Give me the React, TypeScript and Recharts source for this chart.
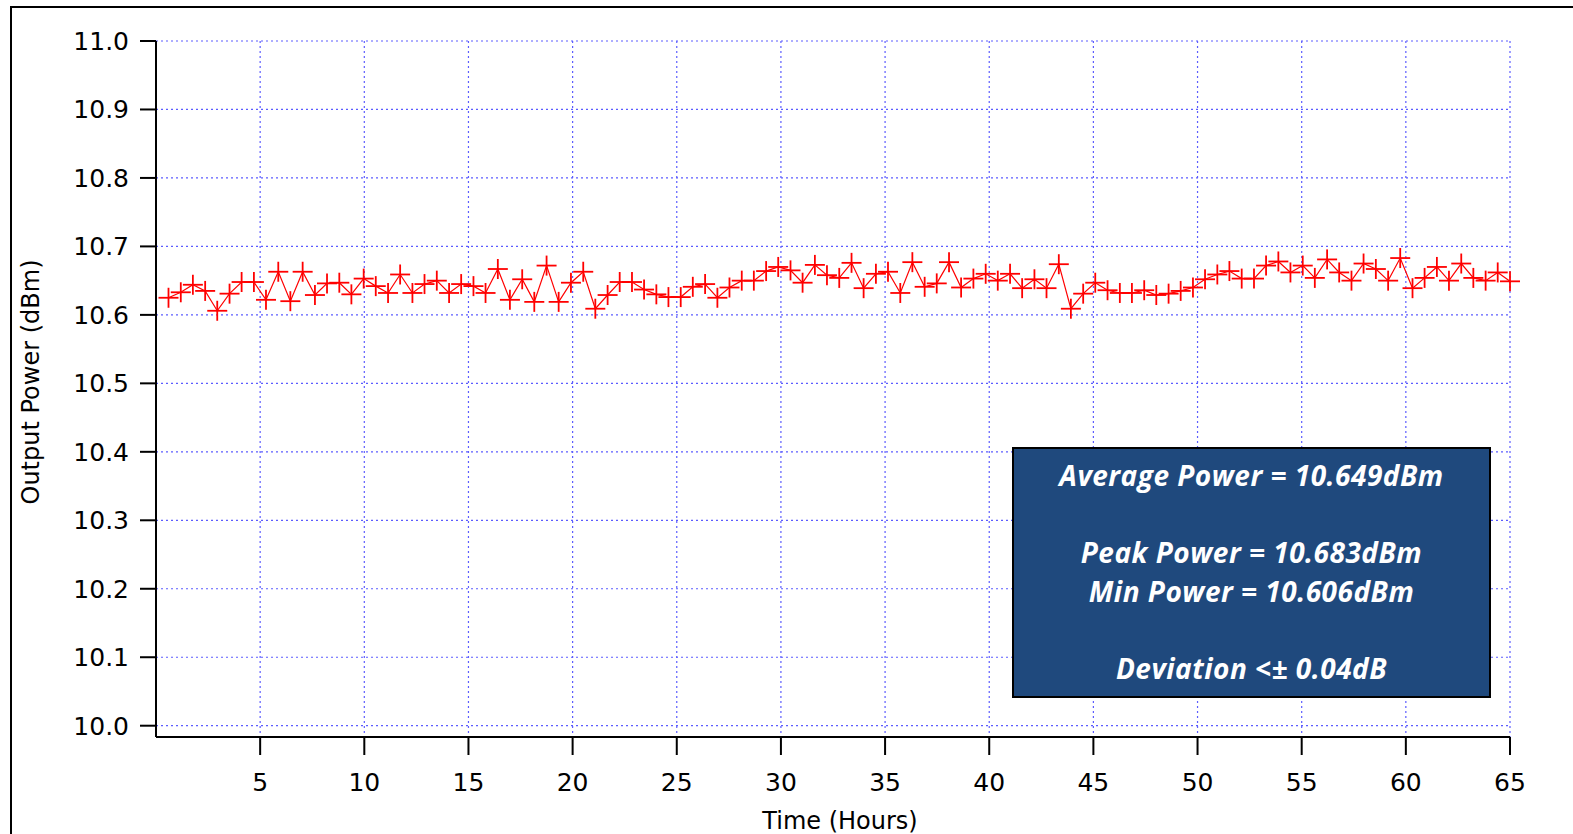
import React from 'react';
import { LineChart, Line, XAxis, YAxis, CartesianGrid } from 'recharts';

// elapsed time of each reading, hours
const hours = [
  0.6, 1.19, 1.77, 2.36, 2.94, 3.53, 4.11, 4.7, 5.28, 5.87,
  6.45, 7.04, 7.63, 8.21, 8.8, 9.38, 9.97, 10.55, 11.14, 11.72,
  12.31, 12.89, 13.48, 14.07, 14.65, 15.24, 15.82, 16.41, 16.99, 17.58,
  18.16, 18.75, 19.33, 19.92, 20.51, 21.09, 21.68, 22.26, 22.85, 23.43,
  24.02, 24.6, 25.19, 25.77, 26.36, 26.95, 27.53, 28.12, 28.7, 29.29,
  29.87, 30.46, 31.04, 31.63, 32.21, 32.8, 33.39, 33.97, 34.56, 35.14,
  35.73, 36.31, 36.9, 37.48, 38.07, 38.65, 39.24, 39.83, 40.41, 41.0,
  41.58, 42.17, 42.75, 43.34, 43.92, 44.51, 45.09, 45.68, 46.27, 46.85,
  47.44, 48.02, 48.61, 49.19, 49.78, 50.36, 50.95, 51.53, 52.12, 52.71,
  53.29, 53.88, 54.46, 55.05, 55.63, 56.22, 56.8, 57.39, 57.97, 58.56,
  59.15, 59.73, 60.32, 60.9, 61.49, 62.07, 62.66, 63.24, 63.83, 64.41,
  65.0,
];

// measured output power, dBm
const powerDbm = [
  10.625, 10.633, 10.644, 10.635, 10.606, 10.631, 10.648, 10.648, 10.622, 10.663,
  10.62, 10.663, 10.629, 10.646, 10.647, 10.63, 10.653, 10.642, 10.632, 10.659,
  10.632, 10.645, 10.65, 10.632, 10.645, 10.642, 10.632, 10.667, 10.622, 10.652,
  10.619, 10.672, 10.619, 10.647, 10.663, 10.609, 10.629, 10.648, 10.648, 10.637,
  10.63, 10.626, 10.626, 10.641, 10.645, 10.625, 10.64, 10.65, 10.65, 10.664,
  10.67, 10.665, 10.647, 10.673, 10.658, 10.654, 10.676, 10.639, 10.66, 10.663,
  10.632, 10.677, 10.641, 10.646, 10.677, 10.64, 10.653, 10.66, 10.65, 10.66,
  10.639, 10.652, 10.639, 10.674, 10.609, 10.631, 10.647, 10.636, 10.632, 10.632,
  10.636, 10.629, 10.631, 10.635, 10.64, 10.652, 10.659, 10.664, 10.653, 10.653,
  10.672, 10.678, 10.662, 10.672, 10.654, 10.681, 10.662, 10.65, 10.675, 10.667,
  10.65, 10.683, 10.639, 10.654, 10.67, 10.65, 10.675, 10.654, 10.65, 10.662,
  10.649,
];

const xTicks = [5, 10, 15, 20, 25, 30, 35, 40, 45, 50, 55, 60, 65];
const yTicks = [10.0, 10.1, 10.2, 10.3, 10.4, 10.5, 10.6, 10.7, 10.8, 10.9, 11.0];

const summaryLines = [
  'Average Power = 10.649dBm',
  '',
  'Peak Power = 10.683dBm',
  'Min Power = 10.606dBm',
  '',
  'Deviation <\u00b1 0.04dB',
];

const data = hours.map((t, i) => ({ t, p: powerDbm[i] }));

const axisFont = { fill: '#000', fontSize: 25, fontFamily: 'DejaVu Sans' };

// "+" marker at each reading
const PlusDot = (props: any) => {
  const { cx, cy, index } = props;
  if (cx == null || cy == null) return <g key={index} />;
  return (
    <g key={index}>
      <line x1={cx - 10} y1={cy} x2={cx + 10} y2={cy} stroke="#ff0000" strokeWidth={1.8} />
      <line x1={cx} y1={cy - 10} x2={cx} y2={cy + 10} stroke="#ff0000" strokeWidth={1.8} />
    </g>
  );
};

const App = () => {
  return (
    <div style={{ position: 'absolute', left: 0, top: 0, width: 1573, height: 834, background: '#fff', overflow: 'hidden' }}>
      <div
        style={{
          position: 'absolute',
          left: 10,
          top: 6,
          right: -10,
          bottom: -10,
          borderTop: '2px solid #000',
          borderLeft: '2px solid #000',
        }}
      />
      <LineChart width={1573} height={834} data={data} margin={{ top: 41, right: 63, bottom: 0, left: 0 }}>
        <CartesianGrid stroke="#5c5cff" strokeDasharray="2 3" strokeWidth={1.2} />
        <XAxis
          dataKey="t"
          type="number"
          domain={[0, 65]}
          ticks={xTicks}
          height={97}
          tick={axisFont}
          tickSize={18}
          tickMargin={18}
          axisLine={{ stroke: '#000', strokeWidth: 2 }}
          tickLine={{ stroke: '#000', strokeWidth: 2 }}
        />
        <YAxis
          type="number"
          domain={[9.9835, 11]}
          ticks={yTicks}
          width={156}
          tick={axisFont}
          tickSize={16}
          tickMargin={11}
          tickFormatter={(v: number) => v.toFixed(1)}
          axisLine={{ stroke: '#000', strokeWidth: 2 }}
          tickLine={{ stroke: '#000', strokeWidth: 2 }}
          allowDataOverflow
        />
        <Line
          dataKey="p"
          stroke="#ff0000"
          strokeWidth={1.2}
          dot={PlusDot}
          activeDot={false}
          isAnimationActive={false}
        />
        <text x={840} y={829} textAnchor="middle" fontSize={24} fontFamily="DejaVu Sans" fill="#000">
          Time (Hours)
        </text>
        <text
          x={0}
          y={0}
          transform="translate(39, 382) rotate(-90)"
          textAnchor="middle"
          fontSize={24}
          fontFamily="DejaVu Sans"
          fill="#000"
        >
          Output Power (dBm)
        </text>
      </LineChart>
      <div
        style={{
          position: 'absolute',
          left: 1012,
          top: 447,
          width: 479,
          height: 251,
          boxSizing: 'border-box',
          border: '2px solid #000',
          background: '#1f497d',
          color: '#fff',
          fontFamily: 'Open Sans',
          fontWeight: 700,
          fontStyle: 'italic',
          fontSize: 28,
          letterSpacing: 0.5,
          lineHeight: '38.5px',
          textAlign: 'center',
          paddingTop: 7,
        }}
      >
        {summaryLines.map((s, i) => (
          <div key={i} style={{ height: 38.5 }}>{s}</div>
        ))}
      </div>
    </div>
  );
};

export default App;
